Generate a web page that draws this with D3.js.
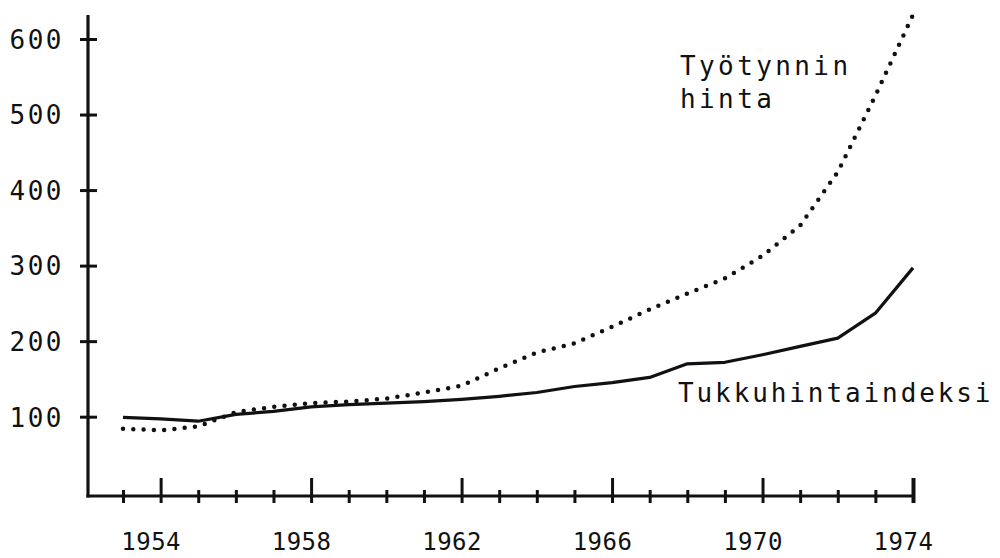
<!DOCTYPE html>
<html>
<head>
<meta charset="utf-8">
<script src="https://cdn.jsdelivr.net/npm/d3@7/dist/d3.min.js"></script>
<style>
  body { margin: 0; background: #fff; }
  text { font-family: "DejaVu Sans Mono", monospace; fill: #111; }
</style>
</head>
<body>
<svg id="chart" width="1000" height="558"></svg>
<script>
// years on the x axis, long ticks + labels every 4 years
var years = [1953, 1954, 1955, 1956, 1957, 1958, 1959, 1960, 1961, 1962, 1963,
             1964, 1965, 1966, 1967, 1968, 1969, 1970, 1971, 1972, 1973, 1974];
var labelYears = [1954, 1958, 1962, 1966, 1970, 1974];
var yTicks = [100, 200, 300, 400, 500, 600];

// Tukkuhintaindeksi (solid)
var wholesale = [99, 97, 94, 103, 107, 113, 116, 118, 120, 123, 127,
                 132, 140, 145, 152, 170, 172, 182, 193, 204, 237, 297];
// Työtynnin hinta (dotted)
var labour = [84, 82, 87, 106, 113, 118, 120, 124, 132, 141, 164,
              185, 197, 219, 242, 263, 283, 313, 353, 424, 525, 632];

var axisLeft = 88,
    axisBottom = 496,
    axisTop = 15,
    fontSize = 26;

var svg = d3.select('#chart');

var x = d3.scaleLinear().domain([1953, 1974]).range([123, 913]),
    y = d3.scaleLinear().domain([-5, 600]).range([axisBottom, 39]);

// y axis
var yAxis = svg.append('g')
    .attr('transform', 'translate(' + axisLeft + ',0)')
    .call(d3.axisLeft(y).tickValues(yTicks).tickSize(0).tickPadding(24));
yAxis.select('.domain').remove();
yAxis.selectAll('.tick text')
    .attr('font-size', fontSize)
    .attr('letter-spacing', 2.5)
    .attr('fill', '#111')
    .attr('dy', '0.36em');
yAxis.selectAll('.tick').append('line')
    .attr('x1', -8).attr('x2', 9)
    .attr('stroke', '#111').attr('stroke-width', 3);
yAxis.append('line')
    .attr('x1', 0).attr('x2', 0)
    .attr('y1', axisBottom + 1.5).attr('y2', axisTop)
    .attr('stroke', '#111').attr('stroke-width', 3.2);

// x axis
var xAxis = svg.append('g')
    .attr('transform', 'translate(0,' + axisBottom + ')')
    .call(d3.axisBottom(x).tickValues(years).tickSize(0).tickFormat(''));
xAxis.select('.domain').remove();
xAxis.append('line')
    .attr('x1', axisLeft - 1.5).attr('x2', x(1974))
    .attr('stroke', '#111').attr('stroke-width', 3.2);
xAxis.selectAll('.tick').append('line')
    .attr('y1', function (d) { return labelYears.indexOf(d) >= 0 ? -18 : -6; })
    .attr('y2', 7)
    .attr('stroke', '#111')
    .attr('stroke-width', function (d) { return d === 1974 ? 4 : 3; });

var xLabels = svg.append('g')
    .attr('transform', 'translate(0,' + axisBottom + ')')
    .call(d3.axisBottom(x).tickValues(labelYears).tickSize(0).tickPadding(37).tickFormat(d3.format('d')));
xLabels.select('.domain').remove();
xLabels.selectAll('.tick text')
    .attr('font-size', 24)
    .attr('letter-spacing', 0.5)
    .attr('fill', '#111')
    .attr('dx', -10);

// series
var line = d3.line()
    .x(function (d, i) { return x(years[i]); })
    .y(function (d) { return y(d); });

svg.append('path')
    .datum(wholesale)
    .attr('d', line)
    .attr('fill', 'none')
    .attr('stroke', '#111')
    .attr('stroke-width', 3.2)
    .attr('stroke-linejoin', 'round');

svg.append('path')
    .datum(labour)
    .attr('d', line)
    .attr('fill', 'none')
    .attr('stroke', '#111')
    .attr('stroke-width', 4.5)
    .attr('stroke-linecap', 'round')
    .attr('stroke-dasharray', '0 10.3');

// series labels
var notes = svg.append('g')
    .attr('font-size', fontSize)
    .attr('letter-spacing', 3.4);
notes.append('text').attr('x', 680).attr('y', 75).text('Työtynnin');
notes.append('text').attr('x', 680).attr('y', 108).text('hinta');
notes.append('text').attr('x', 678).attr('y', 402)
    .attr('letter-spacing', 2.9)
    .text('Tukkuhintaindeksi');
</script>
</body>
</html>
